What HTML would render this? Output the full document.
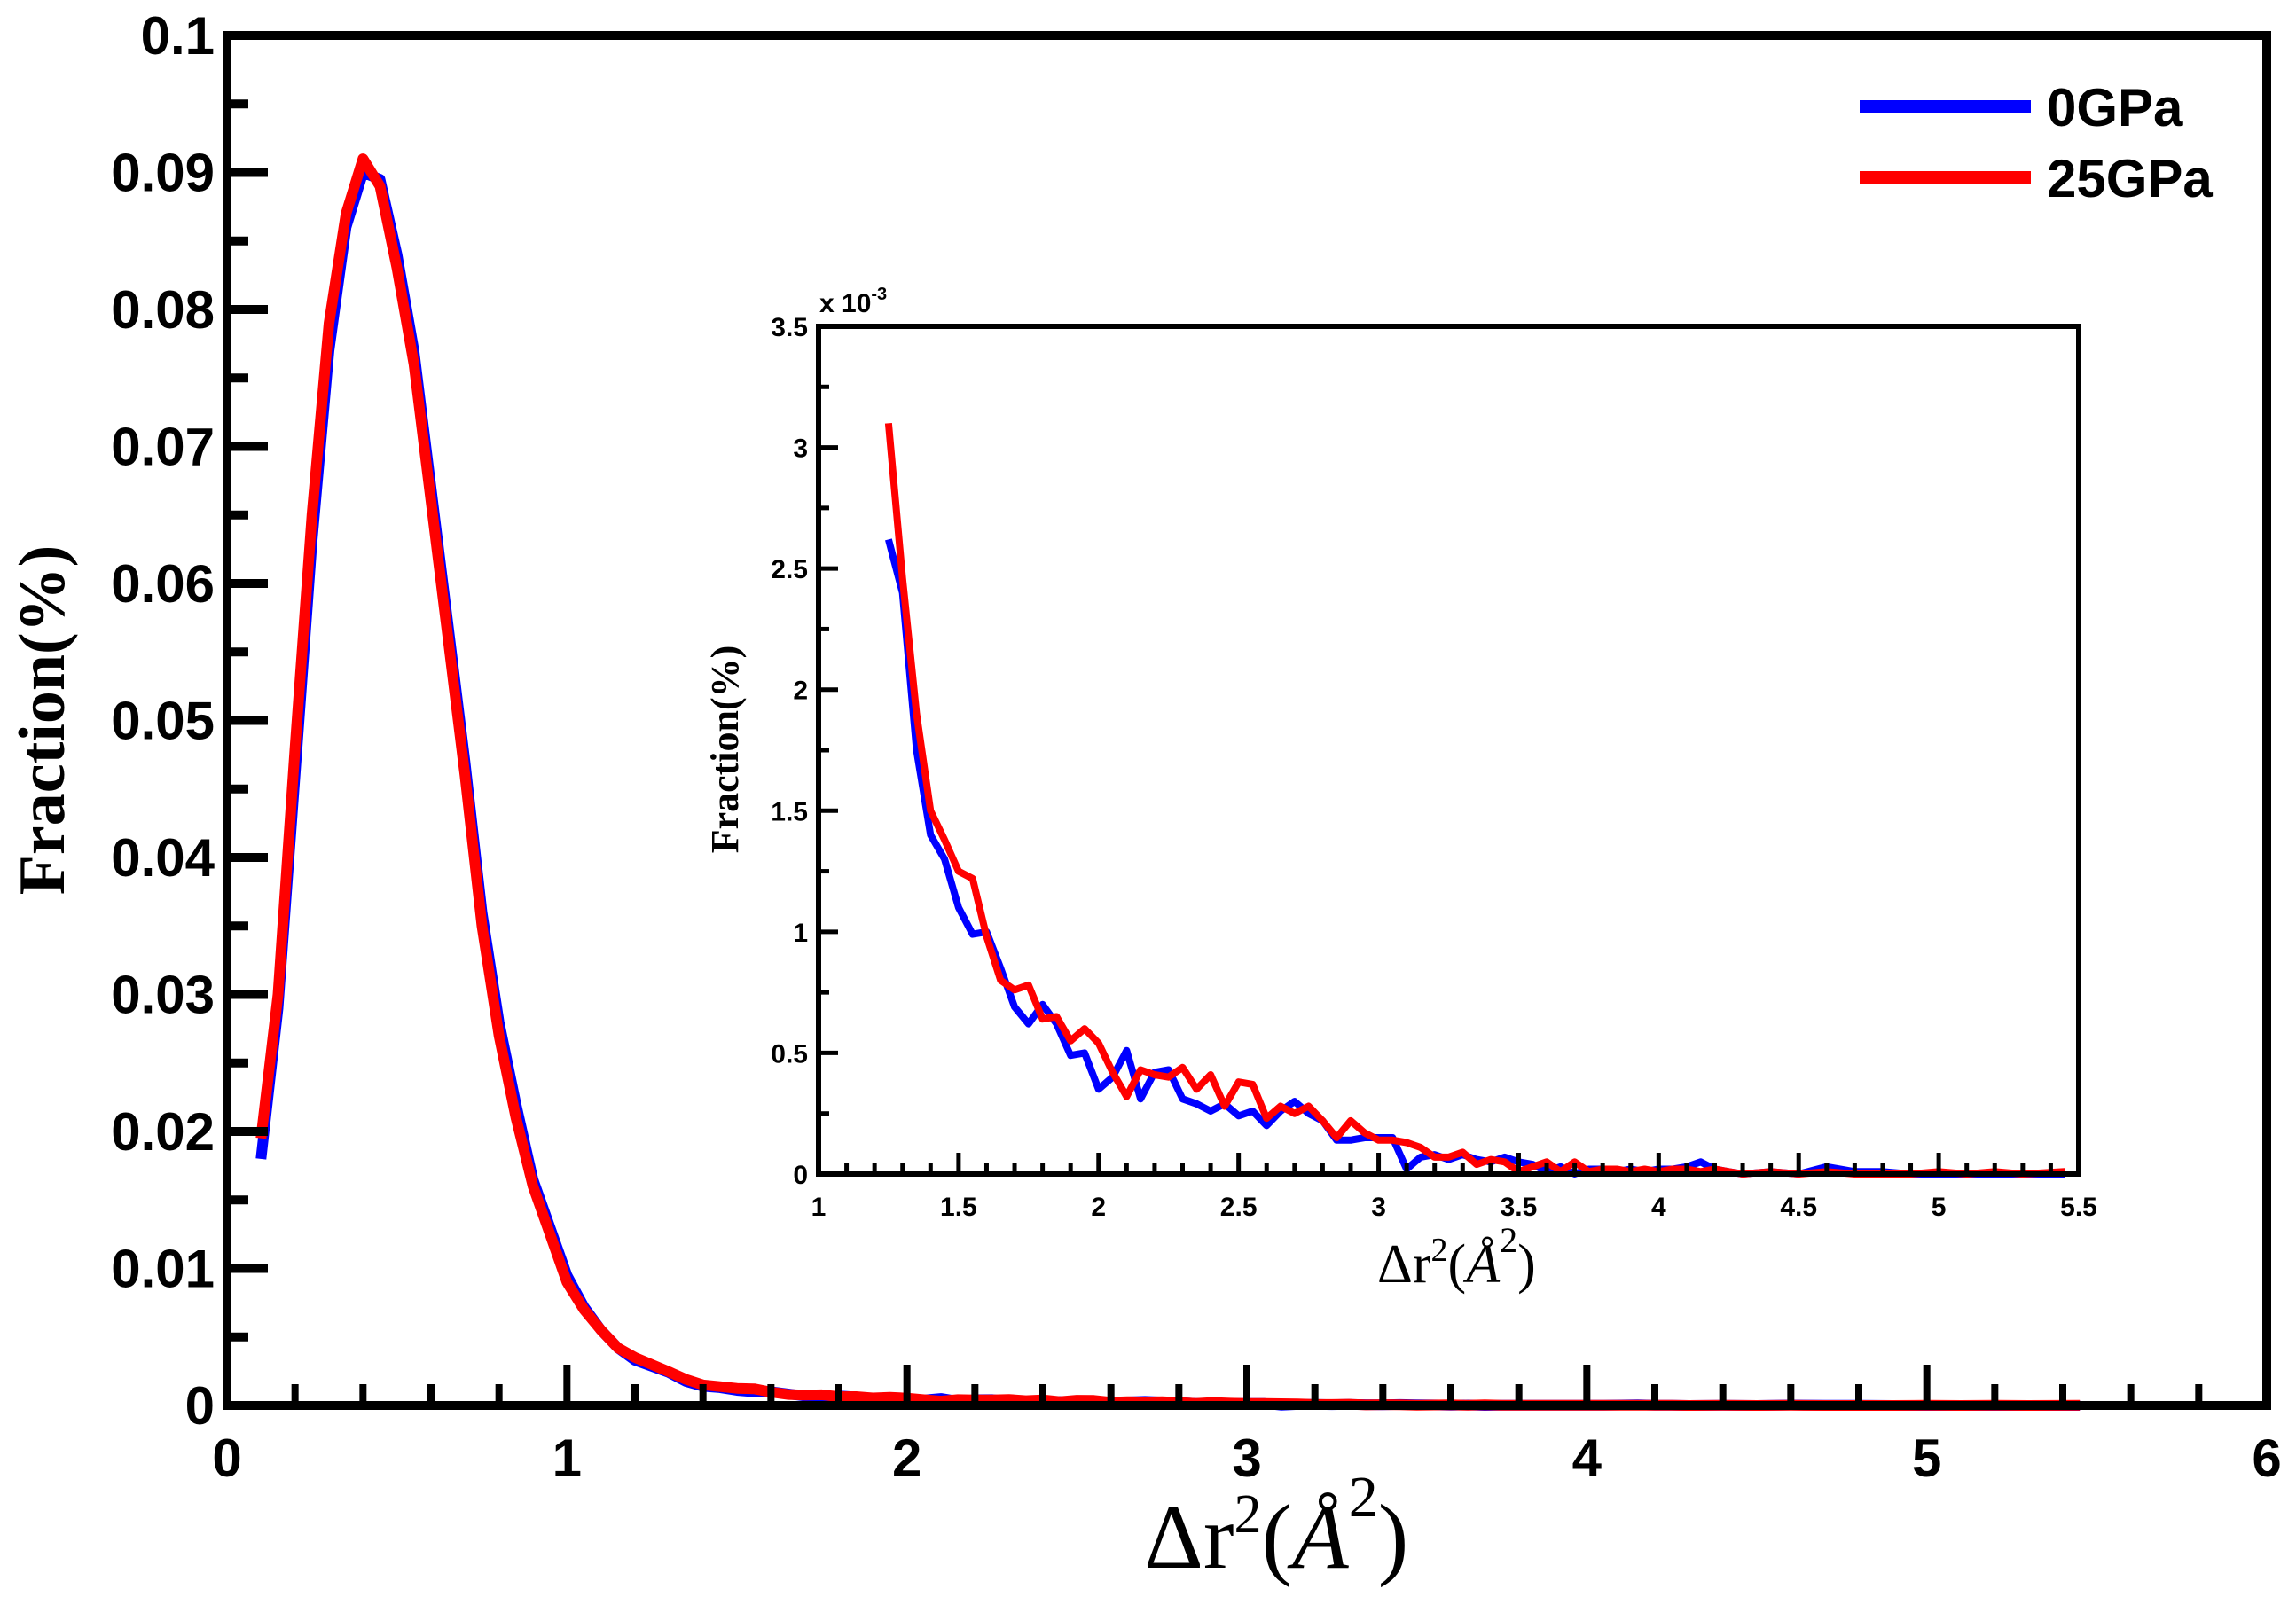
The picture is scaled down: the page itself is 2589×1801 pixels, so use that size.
<!DOCTYPE html>
<html><head><meta charset="utf-8"><style>
html,body{margin:0;padding:0;background:#fff;}
svg{display:block;}
.tk{font-family:"Liberation Sans",sans-serif;font-weight:bold;}
.sf{font-family:"Liberation Serif",serif;}
</style></head><body>
<svg id="chart" width="2589" height="1801" viewBox="0 0 2589 1801" xmlns="http://www.w3.org/2000/svg">
<rect width="2589" height="1801" fill="#fff"/>
<g id="main"></g>
<g id="inset"></g>
</svg>
<script>
// ---- main chart data ----
const mainX = [0.1,0.15,0.2,0.25,0.3,0.35,0.4,0.45,0.5,0.55,0.6,0.65,0.7,0.75,0.8,0.85,0.9,0.95,1.0,1.05,1.1,1.15,1.2];
const mainBlue = [0.018,0.029,0.046,0.063,0.077,0.086,0.090,0.0895,0.084,0.077,0.067,0.057,0.047,0.036,0.028,0.022,0.0165,0.013,0.0095,0.0072,0.0055,0.0042,0.0033];
const mainRed  = [0.0195,0.030,0.048,0.065,0.079,0.087,0.091,0.089,0.083,0.076,0.066,0.056,0.046,0.035,0.027,0.021,0.016,0.0125,0.009,0.007,0.0055,0.0042,0.0035];
// ---- inset chart data (x 10^-3) ----
const insetX = [1.25,1.3,1.35,1.4,1.45,1.5,1.55,1.6,1.65,1.7,1.75,1.8,1.85,1.9,1.95,2.0,2.05,2.1,2.15,2.2,2.25,2.3,2.35,2.4,2.45,2.5,2.55,2.6,2.65,2.7,2.75,2.8,2.85,2.9,2.95,3.0,3.05,3.1,3.15,3.2,3.25,3.3,3.35,3.4,3.45,3.5,3.55,3.6,3.65,3.7,3.75,3.8,3.85,3.9,3.95,4.0,4.05,4.1,4.15,4.2,4.25,4.3,4.4,4.5,4.6,4.7,4.8,4.9,5.0,5.1,5.2,5.3,5.45];
const insetBlue = [2.62,2.4,1.75,1.4,1.3,1.1,0.99,1.0,0.85,0.69,0.62,0.7,0.62,0.49,0.5,0.35,0.4,0.51,0.31,0.42,0.43,0.31,0.29,0.26,0.29,0.24,0.26,0.2,0.26,0.3,0.25,0.22,0.14,0.14,0.15,0.15,0.15,0.02,0.07,0.08,0.06,0.08,0.06,0.05,0.07,0.05,0.04,0.01,0.03,0.0,0.02,0.02,0.01,0.02,0.01,0.02,0.02,0.03,0.05,0.02,0.01,0.0,0.01,0.0,0.03,0.01,0.01,0.0,0.0,0.0,0.0,0.0,0.0];
const insetRed = [3.10,2.46,1.9,1.5,1.38,1.25,1.22,0.98,0.8,0.76,0.78,0.64,0.65,0.55,0.6,0.54,0.42,0.32,0.43,0.41,0.40,0.44,0.35,0.41,0.28,0.38,0.37,0.23,0.28,0.25,0.28,0.22,0.15,0.22,0.17,0.14,0.14,0.13,0.11,0.07,0.07,0.09,0.04,0.06,0.05,0.01,0.03,0.05,0.01,0.05,0.01,0.02,0.02,0.01,0.02,0.01,0.02,0.02,0.01,0.02,0.01,0.0,0.01,0.0,0.01,0.0,0.0,0.0,0.01,0.0,0.01,0.0,0.01];
const mainYTicks = ["0","0.01","0.02","0.03","0.04","0.05","0.06","0.07","0.08","0.09","0.1"];
const mainXTicks = ["0","1","2","3","4","5","6"];
const insetYTicks = ["0","0.5","1","1.5","2","2.5","3","3.5"];
const insetXTicks = ["1","1.5","2","2.5","3","3.5","4","4.5","5","5.5"];

const NS="http://www.w3.org/2000/svg";
function mk(parent,tag,attrs,text){const e=document.createElementNS(NS,tag);for(const k in attrs)e.setAttribute(k,attrs[k]);if(text!==undefined)e.textContent=text;parent.appendChild(e);return e;}

const M={l:256,r:2556,t:40,b:1585,x0:0,x1:6,y0:0,y1:0.1};
const mx=v=>M.l+(v-M.x0)/(M.x1-M.x0)*(M.r-M.l);
const my=v=>M.b-(v-M.y0)/(M.y1-M.y0)*(M.b-M.t);
const g=document.getElementById('main');
const fullX=mainX.concat(insetX.slice(1));
const fullB=mainBlue.concat(insetBlue.slice(1).map(v=>v*1e-3));
const fullR=mainRed.concat(insetRed.slice(1).map(v=>v*1e-3));
function pathD(xs,ys,fx,fy){return xs.map((x,i)=>(i?'L':'M')+fx(x).toFixed(1)+','+fy(ys[i]).toFixed(1)).join(' ');}
let p=mk(g,'path',{d:pathD(fullX,fullB,mx,my),fill:'none',stroke:'#0000ff','stroke-width':12,'stroke-linejoin':'round'});


p=mk(g,'path',{d:pathD(fullX,fullR,mx,my),fill:'none',stroke:'#ff0000','stroke-width':12,'stroke-linejoin':'round'});


let fr=mk(g,'rect',{x:M.l,y:M.t,width:M.r-M.l,height:M.b-M.t,fill:'none',stroke:'#000','stroke-width':10});


mainYTicks.forEach((t,i)=>{const v=+t;const y=my(v);
  if(i>0&&i<mainYTicks.length-1) mk(g,'line',{x1:M.l,x2:M.l+46,y1:y,y2:y,stroke:'#000','stroke-width':10});
  const tx=mk(g,'text',{x:M.l-14,y:y+21,'text-anchor':'end','font-size':60,class:'tk'},t);
  
  
  if(i<mainYTicks.length-1){const ym=my(v+0.005);mk(g,'line',{x1:M.l,x2:M.l+24,y1:ym,y2:ym,stroke:'#000','stroke-width':10});}
});
mainXTicks.forEach((t,i)=>{const v=+t;const x=mx(v);
  if(i>0&&i<mainXTicks.length-1) mk(g,'line',{x1:x,x2:x,y1:M.b,y2:M.b-46,stroke:'#000','stroke-width':8});
  const tx=mk(g,'text',{x:x,y:M.b+80,'text-anchor':'middle','font-size':60,class:'tk'},t);
  
  
  if(i<mainXTicks.length-1) for(let k=1;k<5;k++){const xm=mx(v+k*0.2);mk(g,'line',{x1:xm,x2:xm,y1:M.b,y2:M.b-24,stroke:'#000','stroke-width':8});}
});
let yt=mk(g,'text',{x:0,y:0,transform:'translate(72,812) rotate(-90)','text-anchor':'middle','font-size':74,'font-weight':'bold',class:'sf'},'Fraction(%)');


let xt=mk(g,'text',{x:1290,y:1768,'font-size':104,class:'sf'});


xt.innerHTML='Δr<tspan font-size="62" dy="-40">2</tspan><tspan dy="40">(</tspan><tspan font-style="italic">Å</tspan><tspan font-size="66" dy="-58">2</tspan><tspan dy="58">)</tspan>';
[['0GPa','#0000ff',120],['25GPa','#ff0000',200]].forEach(([lab,c,y])=>{
  const l=mk(g,'line',{x1:2097,x2:2290,y1:y,y2:y,stroke:c,'stroke-width':14});
  
  
  const t=mk(g,'text',{x:2308,y:y+22,'font-size':60,class:'tk'},lab);
  
  
});

const I={l:923,r:2344,t:368,b:1324,x0:1,x1:5.5,y0:0,y1:3.5};
const ix=v=>I.l+(v-I.x0)/(I.x1-I.x0)*(I.r-I.l);
const iy=v=>I.b-(v-I.y0)/(I.y1-I.y0)*(I.b-I.t);
const h=document.getElementById('inset');
mk(h,'rect',{x:I.l,y:I.t,width:I.r-I.l,height:I.b-I.t,fill:'#fff',stroke:'none'});
p=mk(h,'path',{d:pathD(insetX,insetBlue,ix,iy),fill:'none',stroke:'#0000ff','stroke-width':8,'stroke-linejoin':'round'});


p=mk(h,'path',{d:pathD(insetX,insetRed,ix,iy),fill:'none',stroke:'#ff0000','stroke-width':8,'stroke-linejoin':'round'});


fr=mk(h,'rect',{x:I.l,y:I.t,width:I.r-I.l,height:I.b-I.t,fill:'none',stroke:'#000','stroke-width':6});


insetYTicks.forEach((t,i)=>{const v=+t;const y=iy(v);
  if(i>0&&i<insetYTicks.length-1) mk(h,'line',{x1:I.l,x2:I.l+22,y1:y,y2:y,stroke:'#000','stroke-width':5});
  const tx=mk(h,'text',{x:I.l-12,y:y+11,'text-anchor':'end','font-size':30,class:'tk'},t);
  
  
  if(i<insetYTicks.length-1){const ym=iy(v+0.25);mk(h,'line',{x1:I.l,x2:I.l+12,y1:ym,y2:ym,stroke:'#000','stroke-width':5});}
});
insetXTicks.forEach((t,i)=>{const v=+t;const x=ix(v);
  if(i>0&&i<insetXTicks.length-1) mk(h,'line',{x1:x,x2:x,y1:I.b,y2:I.b-24,stroke:'#000','stroke-width':5});
  const tx=mk(h,'text',{x:x,y:I.b+47,'text-anchor':'middle','font-size':30,class:'tk'},t);
  
  
  if(i<insetXTicks.length-1) for(let k=1;k<5;k++){const xm=ix(v+k*0.1);mk(h,'line',{x1:xm,x2:xm,y1:I.b,y2:I.b-12,stroke:'#000','stroke-width':5});}
});
let ex=mk(h,'text',{x:924,y:352,'font-size':30,class:'tk'});


ex.innerHTML='x 10<tspan font-size="20" dy="-14">-3</tspan>';
yt=mk(h,'text',{x:0,y:0,transform:'translate(832,845) rotate(-90)','text-anchor':'middle','font-size':44,'font-weight':'bold',class:'sf'},'Fraction(%)');


xt=mk(h,'text',{x:1553,y:1446,'font-size':62,class:'sf'});


xt.innerHTML='Δr<tspan font-size="38" dy="-24">2</tspan><tspan dy="24">(</tspan><tspan font-style="italic">Å</tspan><tspan font-size="40" dy="-34">2</tspan><tspan dy="34">)</tspan>';
</script>
</body></html>
